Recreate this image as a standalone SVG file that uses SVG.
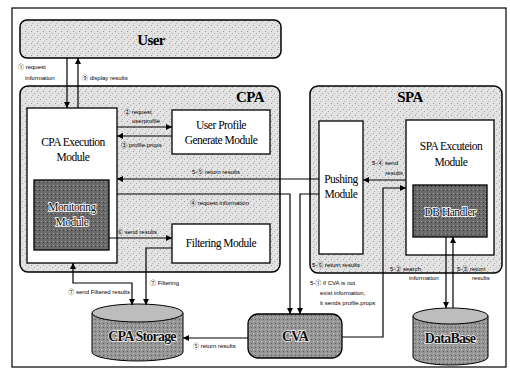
<svg xmlns="http://www.w3.org/2000/svg" width="510" height="369" viewBox="0 0 510 369">
<defs>
  <pattern id="lt" width="6" height="6" patternUnits="userSpaceOnUse">
    <rect width="6" height="6" fill="#e2e2e2"/>
    <rect x="1" y="1" width="1" height="1" fill="#9a9a9a"/>
    <rect x="4" y="3" width="1" height="1" fill="#aaaaaa"/>
    <rect x="2" y="5" width="1" height="1" fill="#b5b5b5"/>
  </pattern>
  <pattern id="dk" width="4" height="4" patternUnits="userSpaceOnUse">
    <rect width="4" height="4" fill="#6a6a6a"/>
    <rect x="1" y="1" width="1" height="1" fill="#9c9c9c"/>
    <rect x="3" y="2" width="1" height="1" fill="#3a3a3a"/>
  </pattern>
  <pattern id="md" width="4" height="4" patternUnits="userSpaceOnUse">
    <rect width="4" height="4" fill="#959595"/>
    <rect x="1" y="1" width="1" height="1" fill="#c4c4c4"/>
    <rect x="3" y="3" width="1" height="1" fill="#5e5e5e"/>
  </pattern>
  <marker id="ah" viewBox="0 0 8 8" refX="8" refY="4" markerWidth="6" markerHeight="6" markerUnits="userSpaceOnUse" orient="auto-start-reverse">
    <path d="M0,0 L8,4 L0,8 z" fill="#000"/>
  </marker>
  <style>
    .frame{fill:#fff;stroke:#000;stroke-width:1.2}
    .cont{fill:url(#lt);stroke:#000;stroke-width:1.5}
    .box{fill:#fff;stroke:#000;stroke-width:1.3}
    .dark{fill:url(#dk);stroke:#000;stroke-width:1.3}
    .cyl{fill:url(#md);stroke:#000;stroke-width:1}
    .cyltop{fill:#bdbdbd;stroke:#000;stroke-width:1}
    .title{font-family:"Liberation Serif","Noto Sans CJK JP",serif;font-weight:bold;font-size:15px;letter-spacing:-0.6px;fill:#000;text-anchor:middle}
    .nt{font-family:"Liberation Serif","Noto Sans CJK JP",serif;font-size:11.5px;letter-spacing:-0.5px;fill:#000;text-anchor:middle}
    .ntw{font-family:"Liberation Serif","Noto Sans CJK JP",serif;font-size:11.5px;letter-spacing:-0.5px;fill:#111;stroke:#fff;stroke-width:1.6px;paint-order:stroke;text-anchor:middle}
    .big{font-family:"Liberation Serif","Noto Sans CJK JP",serif;font-weight:bold;font-size:14px;letter-spacing:-0.8px;fill:#111;stroke:#eee;stroke-width:1.6px;paint-order:stroke;text-anchor:middle}
    .lb{font-family:"Liberation Sans","Noto Sans CJK JP",sans-serif;font-size:6px;fill:#000}
    .ln{fill:none;stroke:#000;stroke-width:1.2}
  </style>
</defs>

<rect class="frame" x="12" y="8" width="494" height="359"/>

<g id="user">
  <rect class="cont" x="20" y="20" width="261" height="38" rx="7"/>
  <text class="title" x="151" y="45">User</text>
</g>

<g id="cpa">
  <rect class="cont" x="20" y="86" width="260" height="186" rx="8"/>
  <text class="title" x="250" y="102">CPA</text>
</g>

<g id="spa">
  <rect class="cont" x="310" y="86" width="192" height="187" rx="8"/>
  <text class="title" x="410" y="102">SPA</text>
</g>

<g id="cpa-exec">
  <rect class="box" x="27" y="108" width="90" height="155"/>
  <text class="nt" x="73" y="146">CPA Execution</text>
  <text class="nt" x="73" y="161">Module</text>
</g>

<g id="monitoring">
  <rect class="dark" x="34" y="180" width="75" height="70"/>
  <text class="ntw" x="72" y="211">Monitoring</text>
  <text class="ntw" x="72" y="226">Module</text>
</g>

<g id="user-profile">
  <rect class="box" x="172" y="110" width="98" height="44"/>
  <text class="nt" x="221" y="129">User Profile</text>
  <text class="nt" x="221" y="144">Generate Module</text>
</g>

<g id="filtering">
  <rect class="box" x="172" y="224" width="98" height="39"/>
  <text class="nt" x="221" y="247">Filtering Module</text>
</g>

<g id="pushing">
  <rect class="box" x="319" y="121" width="44" height="133"/>
  <text class="nt" x="341" y="183">Pushing</text>
  <text class="nt" x="341" y="198">Module</text>
</g>

<g id="spa-exec">
  <rect class="box" x="406" y="120" width="88" height="135"/>
  <text class="nt" x="451" y="150">SPA Excuteion</text>
  <text class="nt" x="451" y="166">Module</text>
</g>

<g id="db-handler">
  <rect class="dark" x="413" y="185" width="74" height="52"/>
  <text class="ntw" x="450" y="216">DB Handler</text>
</g>

<g id="cpa-storage">
  <path class="cyl" d="M92,313 V352 A45.5,9 0 0 0 183,352 V313"/>
  <ellipse class="cyltop" cx="137.5" cy="313" rx="45.5" ry="9"/>
  <text class="big" x="142" y="341">CPA Storage</text>
</g>

<g id="cva">
  <rect class="dark" x="248" y="314" width="94" height="44" rx="10" style="fill:url(#md)"/>
  <text class="big" x="295" y="341">CVA</text>
</g>

<g id="database">
  <path class="cyl" d="M413,316 V357 A37.5,8 0 0 0 488,357 V316"/>
  <ellipse class="cyltop" cx="450.5" cy="316" rx="37.5" ry="8"/>
  <text class="big" x="450" y="343">DataBase</text>
</g>

<g id="connectors">
  <path class="ln" d="M67,58 V108" marker-end="url(#ah)"/>
  <path class="ln" d="M78,108 V58" marker-end="url(#ah)"/>
  <path class="ln" d="M117,127 H172" marker-end="url(#ah)"/>
  <path class="ln" d="M172,136 H117" marker-end="url(#ah)"/>
  <path class="ln" d="M319,179 H117" marker-end="url(#ah)"/>
  <path class="ln" d="M117,194 H290 V314" marker-end="url(#ah)"/>
  <path class="ln" d="M319,194 H300 V314" marker-end="url(#ah)"/>
  <path class="ln" d="M406,180 H363" marker-end="url(#ah)"/>
  <path class="ln" d="M342,337 H383 V188 H406" marker-end="url(#ah)"/>
  <path class="ln" d="M109,238 H172" marker-end="url(#ah)"/>
  <path class="ln" d="M172,248 H146 V305" marker-end="url(#ah)"/>
  <path class="ln" d="M73,263 V283 H132 V305" marker-start="url(#ah)" marker-end="url(#ah)"/>
  <path class="ln" d="M248,338 H183" marker-end="url(#ah)"/>
  <path class="ln" d="M446,237 V308" marker-end="url(#ah)"/>
  <path class="ln" d="M453,308 V237" marker-end="url(#ah)"/>

  <text class="lb" x="18" y="69">① request</text>
  <text class="lb" x="25" y="80">information</text>
  <text class="lb" x="82" y="80">⑨ display results</text>
  <text class="lb" x="124" y="114">② request</text>
  <text class="lb" x="132" y="123">userprofile</text>
  <text class="lb" x="121" y="147">③ profile.props</text>
  <text class="lb" x="192" y="174">5-⑤ return results</text>
  <text class="lb" x="190" y="205">④ request information</text>
  <text class="lb" x="117" y="234">⑥ send results</text>
  <text class="lb" x="150" y="285">⑦ Filtering</text>
  <text class="lb" x="130" y="294" text-anchor="end">⑦ send Filtered results</text>
  <text class="lb" x="193" y="348">⑤ return results</text>
  <text class="lb" x="398" y="165" text-anchor="end">5-④ send</text>
  <text class="lb" x="403" y="175" text-anchor="end">results</text>
  <text class="lb" x="312" y="267">5-⑤ return results</text>
  <text class="lb" x="310" y="285">5-① if CVA is not</text>
  <text class="lb" x="320" y="295">exist information,</text>
  <text class="lb" x="320" y="305">it sends profile.props</text>
  <text class="lb" x="390" y="271">5-② search</text>
  <text class="lb" x="409" y="280">information</text>
  <text class="lb" x="457" y="271">5-③ return</text>
  <text class="lb" x="472" y="280">results</text>
</g>
</svg>
